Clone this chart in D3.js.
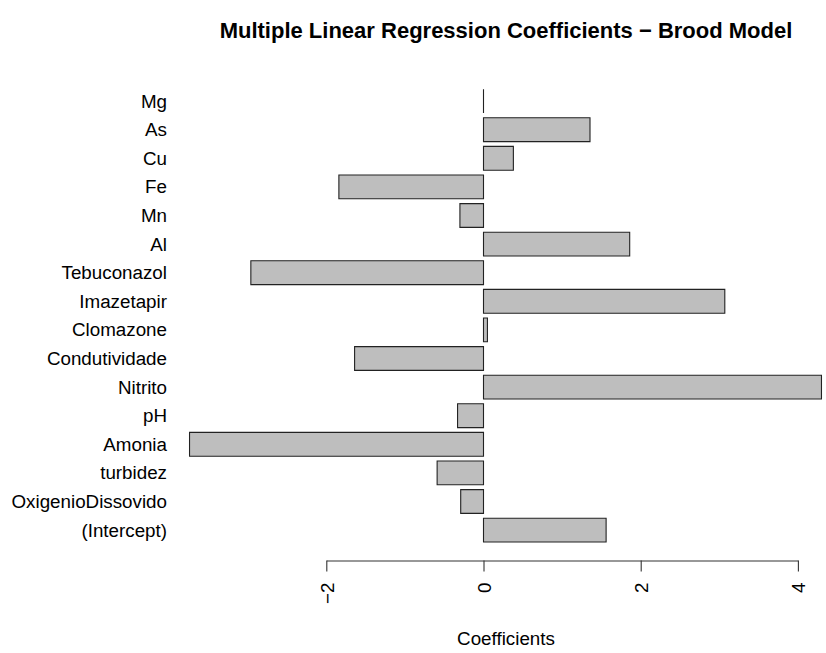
<!DOCTYPE html>
<html>
<head>
<meta charset="utf-8">
<script src="https://cdn.jsdelivr.net/npm/d3@7"></script>
<style>
  body { margin: 0; background: #fff; }
  svg text { font-family: "Liberation Sans", Arial, sans-serif; fill: #000; }
</style>
</head>
<body>
<svg id="chart" width="826" height="653"></svg>
<script>
// coefficient names, top to bottom as drawn
const terms = ["Mg", "As", "Cu", "Fe", "Mn", "Al", "Tebuconazol", "Imazetapir", "Clomazone",
  "Condutividade", "Nitrito", "pH", "Amonia", "turbidez", "OxigenioDissovido", "(Intercept)"];
const coefs = [0, 1.355, 0.38, -1.84, -0.30, 1.86, -2.96, 3.07, 0.05,
  -1.64, 4.30, -0.33, -3.74, -0.59, -0.29, 1.56];
const xTicks = [-2, 0, 2, 4];

const svg = d3.select("#chart");

const data = terms.map((t, i) => ({ term: t, value: coefs[i] }));

// 0 -> 483.5px, 78.6px per unit
const xScale = d3.scaleLinear().domain([-2, 4]).range([326.3, 797.9]);
const yScale = d3.scaleBand().domain(terms).range([86.8, 544.4])
  .paddingInner(0.2 / 1.2).paddingOuter(0.1 / 1.2);

const labelSize = "18.8px";

// title
svg.append("text")
  .attr("x", 506).attr("y", 38)
  .attr("text-anchor", "middle")
  .style("font-size", "22px").style("font-weight", "bold")
  .text("Multiple Linear Regression Coefficients \u2212 Brood Model");

// bars (paths so a zero value still shows as a line)
svg.append("g").selectAll("path")
  .data(data)
  .join("path")
  .attr("d", d => {
    const x0 = xScale(Math.min(0, d.value));
    const w = Math.abs(xScale(d.value) - xScale(0));
    const y0 = yScale(d.term);
    return `M${x0},${y0}h${w}v${yScale.bandwidth()}h${-w}Z`;
  })
  .attr("fill", "#bebebe")
  .attr("stroke", "#222")
  .attr("stroke-width", 1.1);

// term labels
svg.append("g").selectAll("text")
  .data(data)
  .join("text")
  .attr("x", 167)
  .attr("y", d => yScale(d.term) + yScale.bandwidth() / 2)
  .attr("dy", "0.35em")
  .attr("text-anchor", "end")
  .style("font-size", labelSize)
  .text(d => d.term);

// x axis, R style with rotated labels
const xAxis = svg.append("g")
  .attr("transform", "translate(0,560.5)")
  .call(d3.axisBottom(xScale).tickValues(xTicks).tickSize(11).tickSizeOuter(0)
    .tickFormat(d => d < 0 ? "\u2212" + Math.abs(d) : d));
xAxis.select(".domain").attr("stroke", "#333").attr("stroke-width", 1.1);
xAxis.selectAll(".tick line").attr("stroke", "#333").attr("stroke-width", 1.1);
xAxis.selectAll(".tick text")
  .attr("y", 0).attr("x", 0).attr("dy", null)
  .attr("transform", "translate(7,22) rotate(-90)")
  .attr("text-anchor", "end")
  .style("font-size", labelSize)
  .style("font-family", "'Liberation Sans', Arial, sans-serif");

svg.append("text")
  .attr("x", 506).attr("y", 645)
  .attr("text-anchor", "middle")
  .style("font-size", labelSize)
  .text("Coefficients");
</script>
</body>
</html>
